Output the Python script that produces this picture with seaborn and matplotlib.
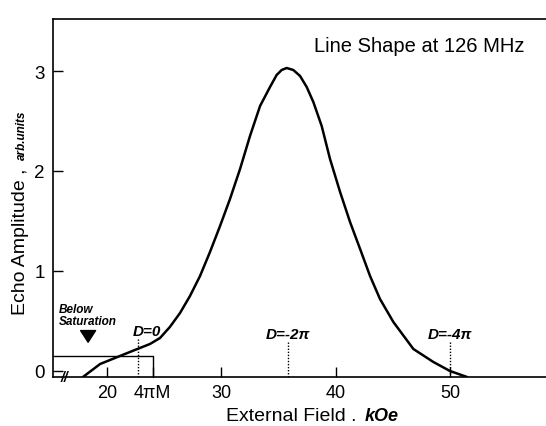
import numpy as np
import pandas as pd
import matplotlib
matplotlib.use("Agg")
import matplotlib.pyplot as plt
import seaborn as sns

# Data
field = [17.9, 19.4, 22.0, 23.76, 24.64, 25.5, 26.39, 27.26, 28.14, 29.01, 29.89,
         30.76, 31.64, 32.51, 33.39, 34.26, 34.84, 35.28, 35.72, 36.3, 36.89, 37.47,
         38.05, 38.78, 39.51, 40.39, 41.26, 42.14, 43.01, 43.88, 45.05, 46.80, 48.55,
         50.0, 51.5]
amplitude = [-0.06, 0.07, 0.19, 0.27, 0.33, 0.44, 0.58, 0.75, 0.95, 1.19, 1.45,
             1.72, 2.02, 2.35, 2.65, 2.84, 2.96, 3.01, 3.03, 3.01, 2.95, 2.84,
             2.69, 2.45, 2.12, 1.79, 1.49, 1.22, 0.95, 0.72, 0.49, 0.22, 0.09,
             0.0, -0.06]

x_ticks = [20, 24.0, 30, 40, 50]
x_tick_labels = ["20", "4πM", "30", "40", "50"]
y_ticks = [0, 1, 2, 3]
y_tick_labels = ["0", "1", "2", "3"]

d_positions = [22.7, 35.8, 50.0]
d_labels = ["D=0", "D=-2π", "D=-4π"]
d_label_x = [23.5, 35.8, 50.0]
d_label_y = [0.40, 0.37, 0.37]
saturation_field = 24.0
saturation_level = 0.15

sns.set_theme(style="white")
plt.rcParams['font.family'] = ['Liberation Sans', 'DejaVu Sans']
plt.rcParams['text.color'] = 'black'
plt.rcParams['axes.labelcolor'] = 'black'
plt.rcParams['xtick.color'] = 'black'
plt.rcParams['ytick.color'] = 'black'

fig = plt.figure(figsize=(5.46, 4.27), dpi=100)
ax = fig.add_axes([53/546, 1 - 378/427, 1 - 53/546, (378 - 20)/427])

df = pd.DataFrame({"field": field, "amplitude": amplitude})
sns.lineplot(data=df, x="field", y="amplitude", ax=ax, color="black", linewidth=1.8)

xmin, xmax = 15.28, 58.4
ymin, ymax = -0.06, 3.52
ax.set_xlim(xmin, xmax)
ax.set_ylim(ymin, ymax)

for s in ["left", "bottom", "top"]:
    ax.spines[s].set_color("black")
    ax.spines[s].set_linewidth(1.2)
    ax.spines[s].set_visible(True)
ax.spines["right"].set_visible(False)

ax.set_xticks(x_ticks)
ax.set_xticklabels(x_tick_labels, fontsize=13)
ax.set_yticks(y_ticks)
ax.set_yticklabels(y_tick_labels, fontsize=13.5)
ax.tick_params(direction="in", length=7, width=1, colors="black", bottom=True, left=True, pad=6)
ax.tick_params(axis="x", pad=5)
ax.set_xlabel("")
ax.set_ylabel("")

# Below-saturation rectangle
ax.plot([xmin, saturation_field, saturation_field], [saturation_level, saturation_level, ymin],
        color="black", linewidth=1.0, clip_on=False)

# D markers
for xp, lab, lx, ly in zip(d_positions, d_labels, d_label_x, d_label_y):
    ax.plot([xp, xp], [ymin, 0.33 if lab == "D=0" else 0.29], color="black",
            linestyle=(0, (1, 1.2)), linewidth=1.0)
    ax.text(lx, ly, lab, fontsize=11, fontweight="bold", fontstyle="italic",
            ha="center", va="center")

ax.text(15.75, 0.56, "Below\nSaturation", fontsize=8.5, fontweight="bold", fontstyle="italic",
        ha="left", va="center", linespacing=1.0)
ax.annotate("", xy=(18.35, 0.26), xytext=(18.35, 0.43),
            arrowprops=dict(arrowstyle="simple,head_width=0.9,head_length=0.7,tail_width=0.5",
                            color="black"))

# axis break marks
ax.text(16.3, ymin, "//", fontsize=10, fontweight="bold", fontstyle="italic",
        ha="center", va="center")

ax.text(525/546, 1 - 46/427, "Line Shape at 126 MHz", transform=fig.transFigure,
        fontsize=14.5, ha="right", va="center")

# Axis labels composed of regular + bold italic parts
fig.text(21/546, 1 - 242/427, "Echo Amplitude ,", rotation=90, fontsize=14,
         ha="center", va="center")
fig.text(22/546, 1 - 160/427, "arb.units", rotation=90, fontsize=8.5, fontweight="bold",
         fontstyle="italic", ha="center", va="bottom")
fig.text(356/546, 1 - 417/427, "External Field .", fontsize=14, ha="right", va="center")
fig.text(365/546, 1 - 417/427, "kOe", fontsize=13, fontweight="bold", fontstyle="italic",
         ha="left", va="center")

fig.savefig("out.png", dpi=100, facecolor="white")
